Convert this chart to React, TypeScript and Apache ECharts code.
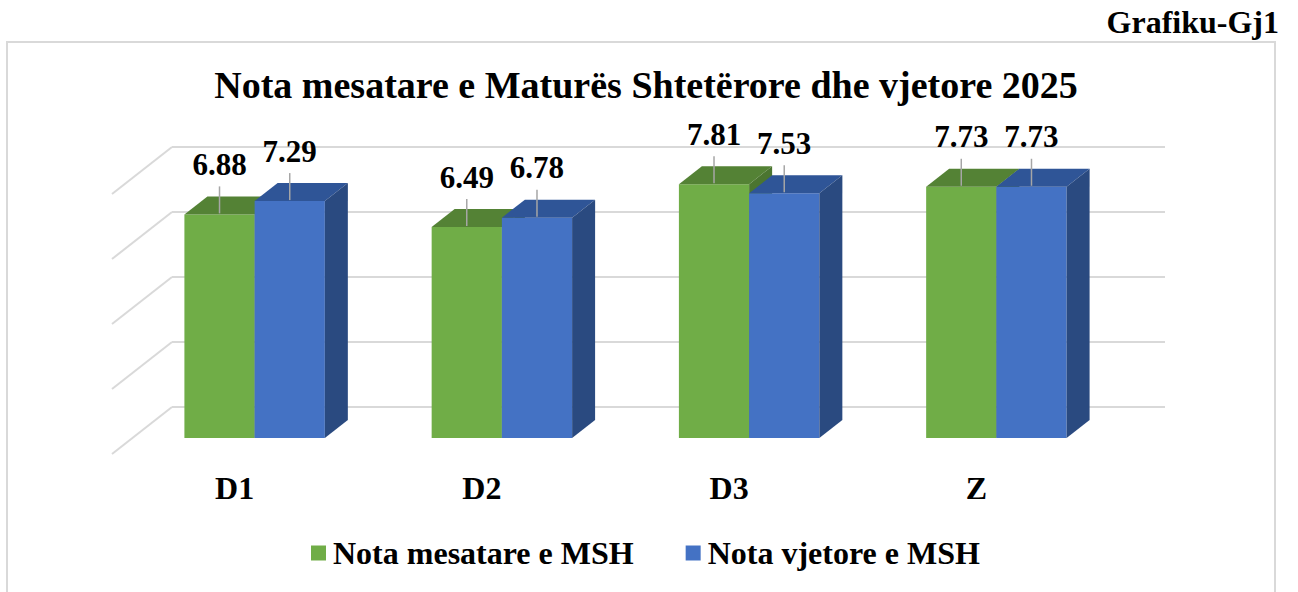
import React, { useEffect, useRef } from "react";
import * as echarts from "echarts";

const categories = ["D1", "D2", "D3", "Z"];
const seriesNames = ["Nota mesatare e MSH", "Nota vjetore e MSH"];
const mesatare = [6.88, 6.49, 7.81, 7.73];
const vjetore = [7.29, 6.78, 7.53, 7.73];
const yTicks = [0, 2, 4, 6, 8];

const FONT = "Liberation Serif";
const BACK_DX = 41;
const BACK_DY = -31;
const FLOOR_DX = -60;
const FLOOR_DY = 47;
const BAR_DX = 23;
const BAR_DY = -18;
const GRID_COLOR = "#D9D9D9";

const palettes = [
  { front: "#70AD47", top: "#548235", side: "#4B7530" },
  { front: "#4472C4", top: "#2F5597", side: "#2A4A80" },
];

function makeBarRender(seriesIdx: number) {
  const pal = palettes[seriesIdx];
  return (params: any, api: any) => {
    const cat = api.value(0);
    const v = api.value(1);
    const base = api.coord([cat, 0]);
    const top = api.coord([cat, v]);
    const catW = api.size([1, 0])[0];
    const bw = catW * 0.284;
    const xl = base[0] - bw + seriesIdx * bw;
    const xr = xl + bw;
    const yT = top[1];
    const yB = base[1];
    const cx = (xl + xr) / 2;
    return {
      type: "group",
      children: [
        {
          type: "rect",
          shape: { x: xl, y: yT, width: bw, height: yB - yT },
          style: { fill: pal.front },
        },
        {
          type: "polygon",
          shape: {
            points: [
              [xl, yT],
              [xr, yT],
              [xr + BAR_DX, yT + BAR_DY],
              [xl + BAR_DX, yT + BAR_DY],
            ],
          },
          style: { fill: pal.top },
        },
        {
          type: "polygon",
          shape: {
            points: [
              [xr, yT],
              [xr + BAR_DX, yT + BAR_DY],
              [xr + BAR_DX, yB + BAR_DY],
              [xr, yB],
            ],
          },
          style: { fill: pal.side },
        },
        {
          type: "line",
          shape: { x1: cx, y1: yT - 1, x2: cx, y2: yT - 28 },
          style: { stroke: "#A6A6A6", lineWidth: 1.5 },
        },
        {
          type: "text",
          x: cx,
          y: yT - 50,
          style: {
            text: v.toFixed(2),
            fill: "#000",
            fontSize: 31,
            fontWeight: "bold",
            fontFamily: FONT,
            align: "center",
            verticalAlign: "middle",
          },
        },
      ],
    };
  };
}

function gridRender(params: any, api: any) {
  const cs = params.coordSys;
  const v = api.value(1);
  const y = api.coord([0, v])[1] + BACK_DY;
  const x1 = cs.x + BACK_DX;
  const x2 = cs.x + cs.width + BACK_DX + 4;
  return {
    type: "group",
    children: [
      {
        type: "line",
        shape: { x1, y1: y, x2, y2: y },
        style: { stroke: GRID_COLOR, lineWidth: 2 },
      },
      {
        type: "line",
        shape: { x1, y1: y, x2: x1 + FLOOR_DX, y2: y + FLOOR_DY },
        style: { stroke: GRID_COLOR, lineWidth: 2 },
      },
    ],
  };
}

export default function App() {
  const ref = useRef<HTMLDivElement>(null);
  useEffect(() => {
    if (!ref.current) return;
    const chart = echarts.init(ref.current, undefined, { renderer: "svg" });
    chart.setOption({
      animation: false,
      backgroundColor: "#fff",
      title: [
        {
          text: "Nota mesatare e Maturës Shtetërore dhe vjetore 2025",
          left: 641,
          textAlign: "center",
          top: 61,
          textStyle: { fontSize: 38, fontWeight: "bold", fontFamily: FONT, color: "#000" },
        },
        {
          text: "Grafiku-Gj1",
          right: 14,
          top: 1,
          textStyle: { fontSize: 32, fontWeight: "bold", fontFamily: FONT, color: "#000" },
        },
      ],
      legend: {
        data: seriesNames,
        top: 537,
        left: 311,
        padding: 0,
        itemWidth: 15,
        itemHeight: 15,
        itemGap: 52,
        icon: "rect",
        textStyle: {
          fontSize: 32,
          fontWeight: "bold",
          fontFamily: FONT,
          color: "#000",
          padding: [0, 0, 0, 2],
        },
      },
      graphic: [
        {
          type: "rect",
          shape: { x: 7, y: 42, width: 1268, height: 600 },
          style: { fill: "none", stroke: GRID_COLOR, lineWidth: 2 },
          silent: true,
          z: -1,
        },
      ],
      grid: { left: 131, width: 989, top: 178, height: 260 },
      xAxis: {
        type: "category",
        data: categories,
        axisLine: { show: false },
        axisTick: { show: false },
        splitLine: { show: false },
        axisLabel: {
          margin: 34,
          fontSize: 32,
          fontWeight: "bold",
          fontFamily: FONT,
          color: "#000",
          padding: [0, 40, 0, 0],
        },
      },
      yAxis: {
        type: "value",
        min: 0,
        max: 8,
        interval: 2,
        show: false,
        splitLine: { show: false },
      },
      series: [
        {
          type: "custom",
          name: "grid",
          renderItem: gridRender,
          data: yTicks.map((v) => [0, v]),
          encode: { x: 0, y: 1 },
          silent: true,
          z: 1,
        },
        {
          type: "custom",
          name: seriesNames[0],
          renderItem: makeBarRender(0),
          data: mesatare.map((v, i) => [i, v]),
          encode: { x: 0, y: 1 },
          itemStyle: { color: palettes[0].front },
          z: 2,
        },
        {
          type: "custom",
          name: seriesNames[1],
          renderItem: makeBarRender(1),
          data: vjetore.map((v, i) => [i, v]),
          encode: { x: 0, y: 1 },
          itemStyle: { color: palettes[1].front },
          z: 3,
        },
      ],
    });
    return () => chart.dispose();
  }, []);
  return (
    <div
      ref={ref}
      style={{ position: "absolute", left: 0, top: 0, width: 1298, height: 592 }}
    />
  );
}
